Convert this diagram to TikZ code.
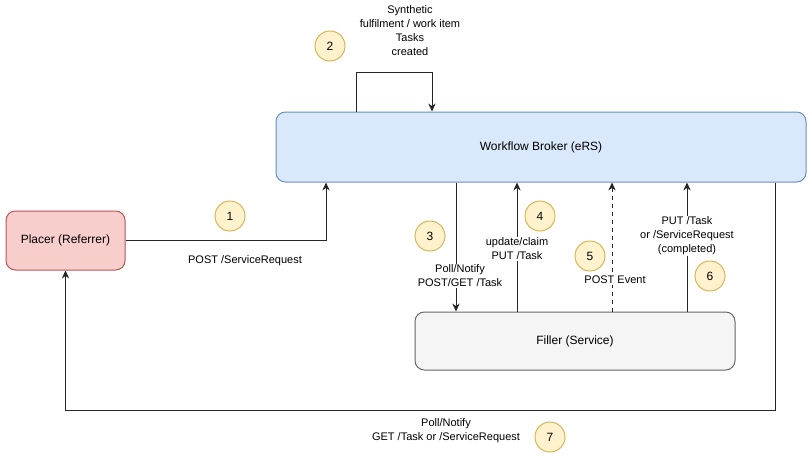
\documentclass[tikz,border=0pt]{standalone}
\usepackage{fontspec}
\setmainfont{Liberation Sans}
\usetikzlibrary{arrows.meta}
\definecolor{brokerfill}{HTML}{DAE8FC}
\definecolor{brokerline}{HTML}{6C8EBF}
\definecolor{placerfill}{HTML}{F8CECC}
\definecolor{placerline}{HTML}{B85450}
\definecolor{fillerfill}{HTML}{F5F5F5}
\definecolor{fillerline}{HTML}{666666}
\definecolor{numfill}{HTML}{FFF2CC}
\definecolor{numline}{HTML}{D6B656}
\tikzset{
  box/.style={draw, rounded corners=7pt, line width=0.75pt, font=\fontsize{9}{11}\selectfont, inner sep=0pt},
  num/.style={circle, draw=numline, fill=numfill, minimum size=22.5pt, inner sep=0pt, line width=0.75pt, font=\fontsize{9}{11}\selectfont},
  arr/.style={draw=black!85, line width=0.75pt, -{Stealth[length=6pt,width=5.5pt]}},
  lbl/.style={fill=white, inner sep=1pt, align=center, font=\fontsize{8.25}{10.5}\selectfont},
}
\begin{document}
\begin{tikzpicture}[x=0.75pt,y=-0.75pt]
\useasboundingbox (0,0) rectangle (811,457);
% boxes
\node[box, fill=brokerfill, draw=brokerline, minimum width=530*0.75pt, minimum height=70*0.75pt] (broker) at (541,147) {Workflow Broker (eRS)};
\node[box, fill=placerfill, draw=placerline, minimum width=119*0.75pt, minimum height=59*0.75pt] (placer) at (65.5,240.5) {Placer (Referrer)};
\node[box, fill=fillerfill, draw=fillerline, minimum width=320*0.75pt, minimum height=58*0.75pt] (filler) at (575,341) {Filler (Service)};
% x coordinates
\coordinate (x1) at (326,0);
\coordinate (x2a) at (356,0);
\coordinate (x2b) at (432,0);
\coordinate (x3) at (456,0);
\coordinate (x4) at (517,0);
\coordinate (x5) at (612,0);
\coordinate (x6) at (687,0);
\coordinate (x7) at (775,0);
\coordinate (top2) at (0,72);
\coordinate (bot7) at (0,410);
% circles
\node[num] (n1) at (230,216) {1};
\node[num] (n2) at (330,46) {2};
\node[num] (n3) at (430,236) {3};
\node[num] (n4) at (540,216) {4};
\node[num] (n5) at (590,256) {5};
\node[num] (n6) at (710,276) {6};
\node[num] (n7) at (550,437) {7};
% arrow 1
\draw[arr] (placer.east) -| (broker.south -| x1);
\node[lbl] (l1) at (245,261) {POST /ServiceRequest};
% arrow 2
\draw[arr] (broker.north -| x2a) |- (top2 -| x2b) -- (broker.north -| x2b);
\node[lbl, fill=none] (l2) at (410,30.5) {Synthetic\\fulfilment / work item\\Tasks\\created};
% arrow 3
\draw[arr] (broker.south -| x3) -- (filler.north -| x3);
\node[lbl] (l3) at (460,276) {Poll/Notify\\POST/GET /Task};
% arrow 4
\draw[arr] (filler.north -| x4) -- (broker.south -| x4);
\node[lbl] (l4) at (517,249) {update/claim\\PUT /Task};
% arrow 5
\draw[arr, dashed] (filler.north -| x5) -- (broker.south -| x5);
\node[lbl] (l5) at (615,280) {POST Event};
% arrow 6
\draw[arr] (filler.north -| x6) -- (broker.south -| x6);
\node[lbl] (l6) at (687,236) {PUT /Task\\or /ServiceRequest\\(completed)};
% arrow 7
\draw[arr] (broker.south -| x7) |- (bot7 -| placer.south) -- (placer.south);
\node[lbl] (l7) at (446,431) {Poll/Notify\\GET /Task or /ServiceRequest};
\end{tikzpicture}
\end{document}
